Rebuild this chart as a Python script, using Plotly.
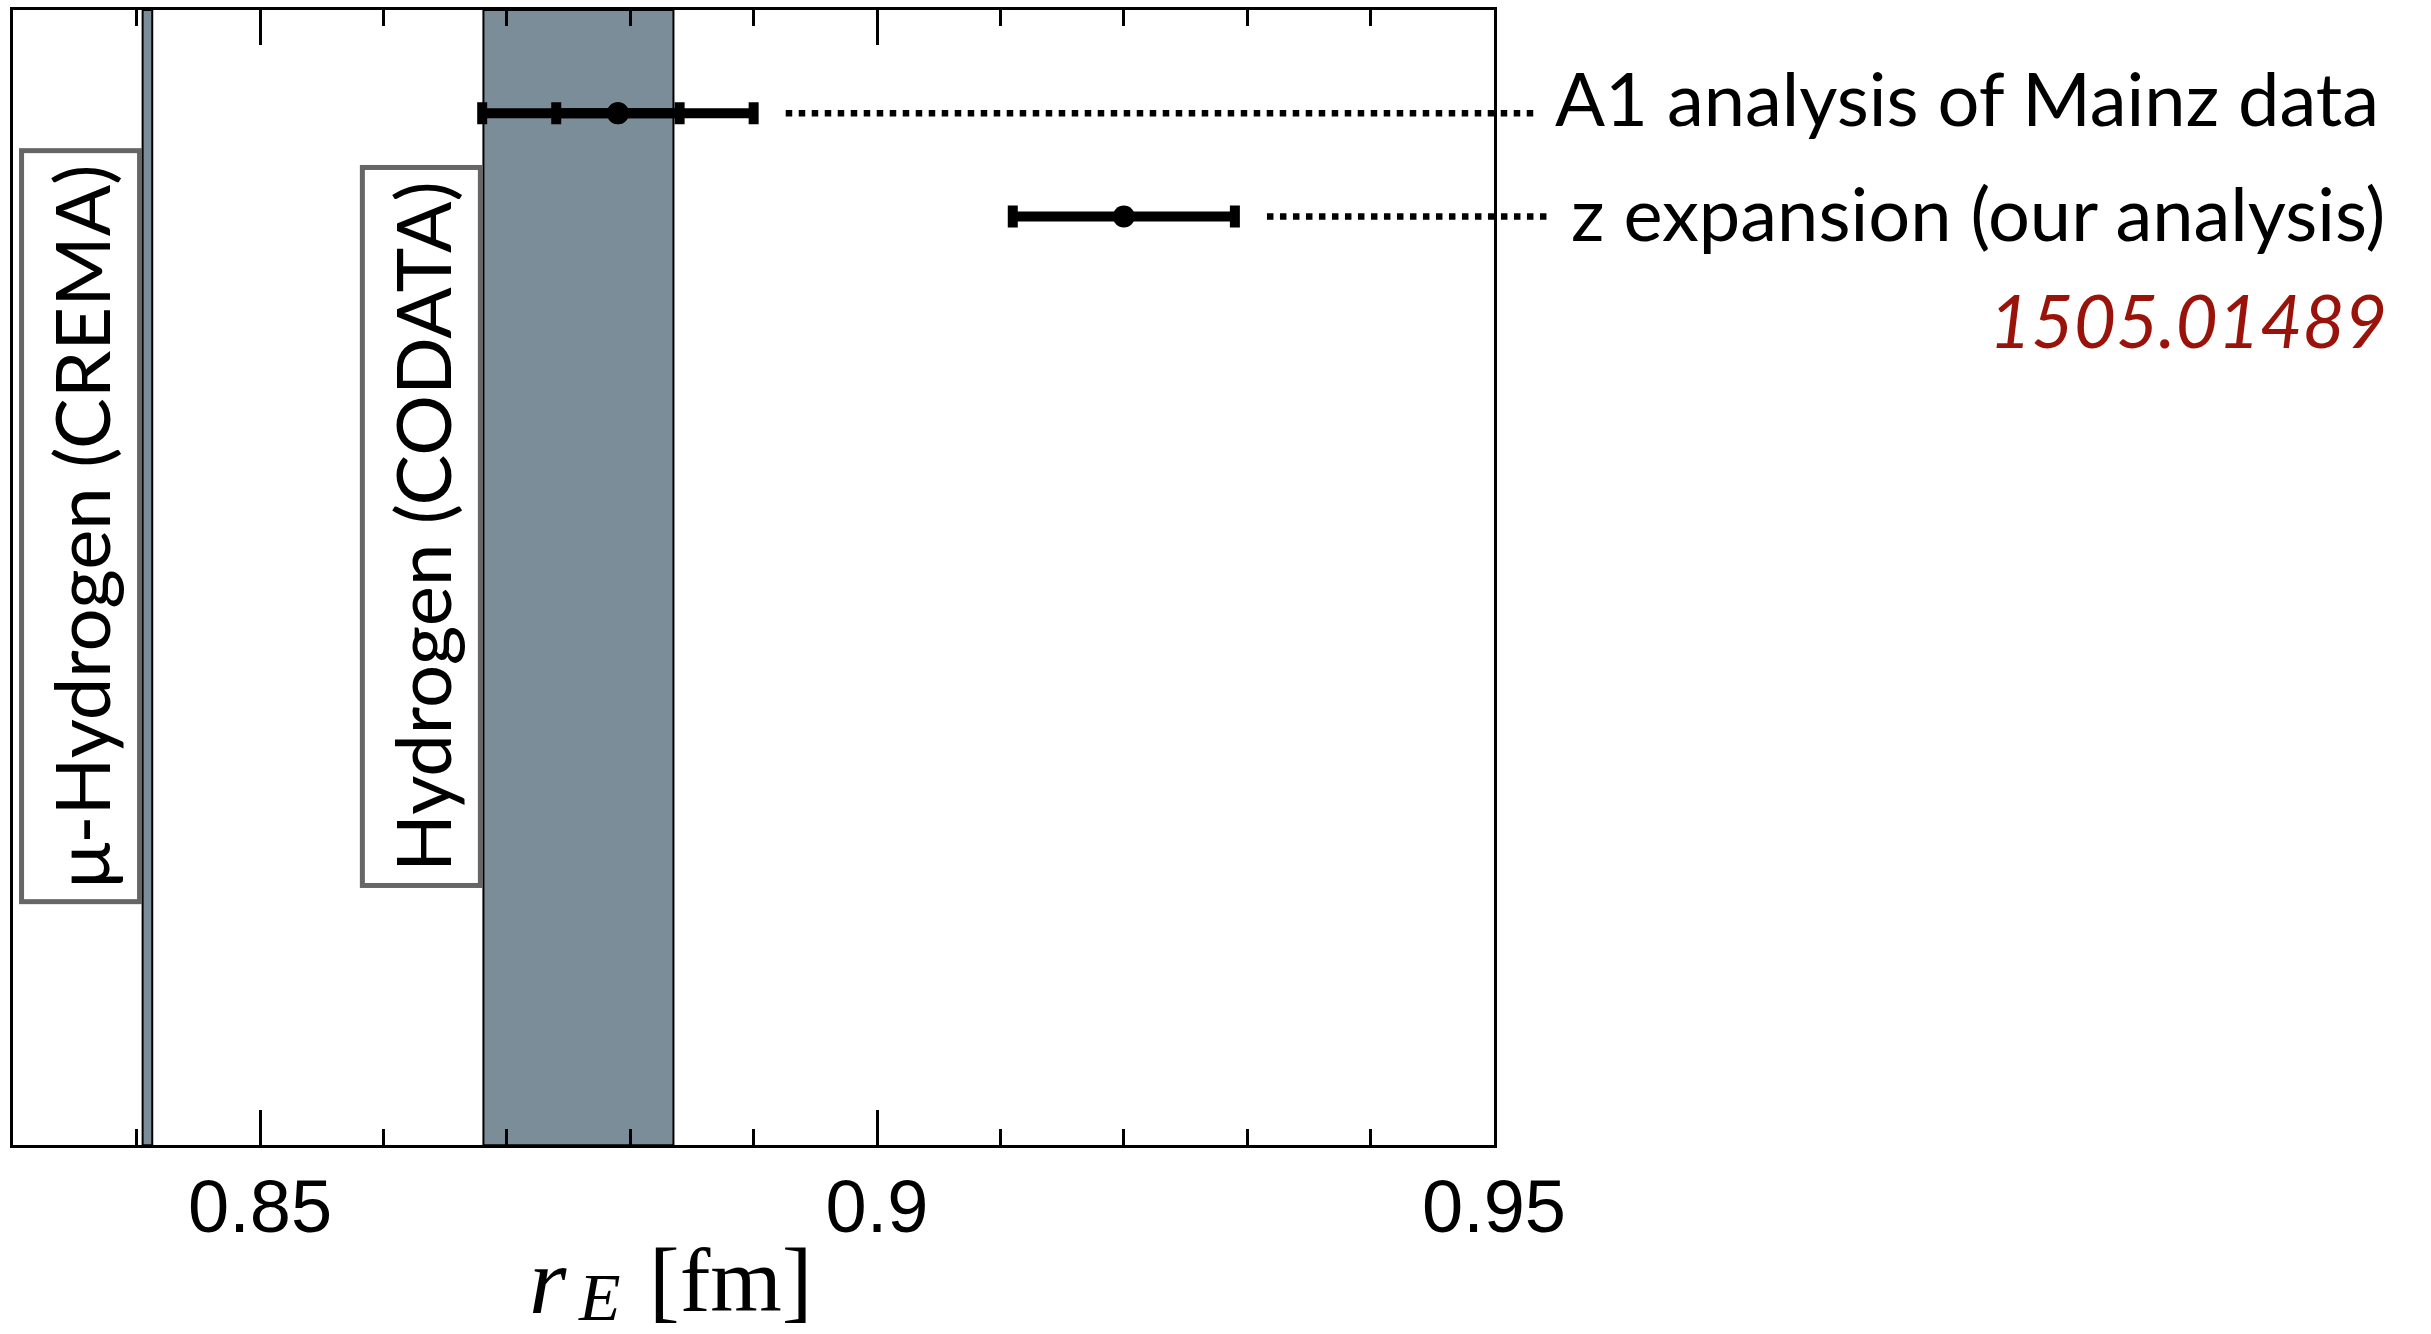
import plotly.graph_objects as go

# ---------------- data ----------------
band_names = ["μ-Hydrogen (CREMA)", "Hydrogen (CODATA)"]
band_center = [0.84087, 0.8758]
band_err = [0.00039, 0.0077]

point_names = ["A1 analysis of Mainz data", "z expansion (our analysis)"]
point_x = [0.879, 0.920]
point_y = [10, 9]
point_err_total = [0.011, 0.009]
point_err_inner = [0.005, None]

leader_x0 = [0.8926, 0.9316]
leader_x1 = [0.9537, 0.9544]

label_x = [0.9548, 0.9561]
label_yshift = [16, 4]
band_label_y = 6
ref_label_y = 8
ref_label = "1505.01489"

x_range = [0.83, 0.95]
y_range = [0, 11]
major_ticks = [0.85, 0.9, 0.95]
major_text = ["0.85", "0.9", "0.95"]

# ---------------- layout geometry ----------------
W, H = 2431, 1334
px_left, px_right, px_top, px_bottom = 13.3, 1494.0, 10.0, 1145.3
xdom = [px_left / W, px_right / W]
ydom = [1 - px_bottom / H, 1 - px_top / H]

# overlay axes spanning full figure with identical scale (for leader lines/labels)
sx = (x_range[1] - x_range[0]) / (px_right - px_left)
sy = (y_range[1] - y_range[0]) / (px_bottom - px_top)
x2_range = [x_range[0] - px_left * sx, x_range[1] + (W - px_right) * sx]
y2_range = [y_range[0] - (H - px_bottom) * sy, y_range[1] + px_top * sy]

BAND = "#7b8d98"
fig = go.Figure()

# bands
for c, e in zip(band_center, band_err):
    fig.add_vrect(x0=c - e, x1=c + e, fillcolor=BAND, opacity=1,
                  line=dict(color="black", width=2), layer="below")

# band labels (rotated boxes)
for name, c, e in zip(band_names, band_center, band_err):
    fig.add_annotation(x=c - e, y=band_label_y, xref="x", yref="y",
                       text=name, textangle=-90, showarrow=False,
                       xanchor="right", yanchor="middle", xshift=-1,
                       font=dict(family="Lato", size=76, color="black"),
                       bgcolor="white", bordercolor="#666666", borderwidth=5,
                       borderpad=11)

# error bars
for x, y, et, ei in zip(point_x, point_y, point_err_total, point_err_inner):
    fig.add_trace(go.Scatter(x=[x], y=[y], mode="markers",
                             marker=dict(color="black", size=22),
                             error_x=dict(type="data", array=[et], symmetric=True,
                                          color="black", thickness=10, width=11),
                             showlegend=False, hoverinfo="skip"))
    if ei is not None:
        fig.add_trace(go.Scatter(x=[x], y=[y], mode="markers",
                                 marker=dict(color="black", size=22),
                                 error_x=dict(type="data", array=[ei], symmetric=True,
                                              color="black", thickness=10, width=11),
                                 showlegend=False, hoverinfo="skip"))

# leader lines on overlay axes
for x0, x1, y in zip(leader_x0, leader_x1, point_y):
    fig.add_trace(go.Scatter(x=[x0, x1], y=[y, y], mode="lines", xaxis="x2", yaxis="y2",
                             line=dict(color="black", width=6.5, dash="dot"),
                             showlegend=False, hoverinfo="skip"))

# right-hand labels
for name, lx, y, ys in zip(point_names, label_x, point_y, label_yshift):
    fig.add_annotation(x=lx, y=y, xref="x2", yref="y2", text=name, showarrow=False,
                       xanchor="left", yanchor="middle", yshift=ys,
                       font=dict(family="Lato", size=74, color="black"))

fig.add_annotation(x=2389 / W, y=ref_label_y, xref="paper", yref="y2",
                   text="<i>" + ref_label + "</i>", showarrow=False,
                   xanchor="right", yanchor="middle",
                   font=dict(family="Lato", size=73, color="#99130a"))

# axis title  r_E [fm]
title_font = "Liberation Serif"
fig.add_annotation(x=548 / W, y=1 - 1280 / H, xref="paper", yref="paper",
                   text="<i>r</i>", showarrow=False, xanchor="center", yanchor="middle",
                   font=dict(family=title_font, size=96, color="black"))
fig.add_annotation(x=599 / W, y=1 - 1297 / H, xref="paper", yref="paper",
                   text="<i>E</i>", showarrow=False, xanchor="center", yanchor="middle",
                   font=dict(family=title_font, size=68, color="black"))
fig.add_annotation(x=731 / W, y=1 - 1280 / H, xref="paper", yref="paper",
                   text="[fm]", showarrow=False, xanchor="center", yanchor="middle",
                   font=dict(family=title_font, size=92, color="black"))

fig.update_layout(
    width=W, height=H, autosize=False,
    margin=dict(l=0, r=0, t=0, b=0),
    paper_bgcolor="white", plot_bgcolor="rgba(0,0,0,0)",
    xaxis=dict(domain=xdom, range=x_range, tickvals=major_ticks, ticktext=major_text,
               ticks="inside", ticklen=35, tickwidth=2.5, tickcolor="black",
               showline=True, linecolor="black", linewidth=2.7, mirror="allticks",
               showgrid=False, zeroline=False, ticklabelstandoff=-5, automargin=False,
               tickfont=dict(family="Liberation Sans", size=74, color="black"),
               minor=dict(ticks="inside", ticklen=16, tickwidth=2.5, tickcolor="black",
                          dtick=0.01, tick0=0.83, showgrid=False)),
    yaxis=dict(domain=ydom, range=y_range, showline=True, linecolor="black",
               linewidth=2.7, mirror=True, ticks="", showticklabels=False,
               showgrid=False, zeroline=False, automargin=False),
    xaxis2=dict(domain=[0, 1], range=x2_range, anchor="y2", visible=False,
                showgrid=False, zeroline=False, automargin=False),
    yaxis2=dict(domain=[0, 1], range=y2_range, anchor="x2", visible=False,
                showgrid=False, zeroline=False, automargin=False),
)

fig.write_html("out.html", config={"responsive": False, "displayModeBar": False},
               post_script="document.body.style.margin='0';document.body.style.overflow='hidden';")
